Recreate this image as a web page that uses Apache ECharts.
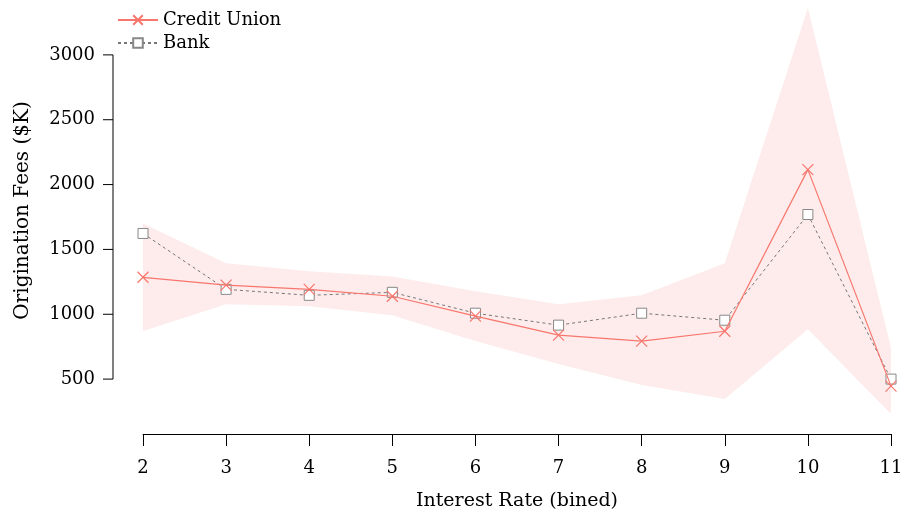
<!DOCTYPE html>
<html lang="en">
<head>
<meta charset="UTF-8">
<title>Origination Fees</title>
<script src="https://cdn.jsdelivr.net/npm/echarts@6/dist/echarts.min.js"></script>
<style>
    body,html{ margin:0; width:906px; height:516px; background:#fff; }
    #chart{ width:906px; height:516px; }
</style>
</head>
<body>
<div id="chart"></div>
<script>
    // data
    let rates = [2, 3, 4, 5, 6, 7, 8, 9, 10, 11];
    let creditUnion = [1285, 1224, 1192, 1139, 985, 839, 793, 869, 2115, 446];
    let bank = [1623, 1192, 1146, 1169, 1008, 916, 1008, 954, 1769, 500];
    let bandLow = [870, 1077, 1062, 992, 793, 616, 454, 346, 885, 231];
    let bandHigh = [1700, 1393, 1331, 1292, 1177, 1077, 1146, 1393, 3361, 740];
    let yTicks = [500, 1000, 1500, 2000, 2500, 3000];

    let font = "'DejaVu Serif', serif";
    let red = '#f8766d';

    let chart = echarts.init(document.getElementById('chart'));
    let option = {
        animation: false,
        textStyle: { fontFamily: font },
        grid: { left: 143, right: 15, top: 3, bottom: 97 },
        legend: {
            left: 112, top: 6, orient: 'vertical', itemGap: 5,
            itemWidth: 40, itemHeight: 12,
            textStyle: { fontFamily: font, fontSize: 18, color: '#000' },
            data: ['Credit Union', 'Bank']
        },
        xAxis: {
            type: 'value', min: 2, max: 11, interval: 1, offset: 16,
            name: 'Interest Rate (bined)', nameLocation: 'middle', nameGap: 58,
            nameTextStyle: { fontSize: 19, color: '#000' },
            axisLine: { lineStyle: { color: '#000' } },
            axisTick: { length: 12, lineStyle: { color: '#000' } },
            axisLabel: { fontSize: 18, color: '#000', margin: 25 },
            splitLine: { show: false }
        },
        yAxis: {
            type: 'value', min: 200, max: 3400, offset: 30,
            name: 'Origination Fees ($K)', nameLocation: 'middle', nameGap: 80,
            nameTextStyle: { fontSize: 20, color: '#000' },
            axisLine: { show: false },
            axisTick: { show: false },
            axisLabel: {
                fontSize: 18, color: '#000', margin: 18,
                formatter: v => yTicks.indexOf(v) >= 0 ? v : ''
            },
            interval: 100,
            splitLine: { show: false }
        },
        series: [
            {
                type: 'custom', silent: true, z: 1,
                data: [0],
                renderItem: function (params, api) {
                    let pts = [];
                    rates.forEach((r, i) => pts.push(api.coord([r, bandHigh[i]])));
                    for (let i = rates.length - 1; i >= 0; i--) pts.push(api.coord([rates[i], bandLow[i]]));
                    return { type: 'polygon', shape: { points: pts }, style: { fill: '#fdeceb' } };
                }
            },
            {
                name: 'Credit Union', type: 'line', z: 3,
                data: rates.map((r, i) => [r, creditUnion[i]]),
                symbol: 'path://M0,0L10,10M10,0L0,10', symbolSize: 11,
                itemStyle: { color: 'none', borderColor: red, borderWidth: 1.2 },
                lineStyle: { color: red, width: 1.2 },
                color: red
            },
            {
                name: 'Bank', type: 'line', z: 2,
                data: rates.map((r, i) => [r, bank[i]]),
                symbol: 'rect', symbolSize: 10,
                itemStyle: { color: '#fff', borderColor: '#888', borderWidth: 1 },
                lineStyle: { color: '#777', width: 1, type: [3, 3] },
                color: '#888'
            }
        ]
    };
    chart.setOption(option);

    // R style y axis line, only between the first and last tick
    let yAxisX = 113;
    let p0 = chart.convertToPixel({ gridIndex: 0 }, [2, yTicks[0]]);
    let p1 = chart.convertToPixel({ gridIndex: 0 }, [2, yTicks[yTicks.length - 1]]);
    let els = [{
        type: 'line', shape: { x1: yAxisX, y1: p0[1], x2: yAxisX, y2: p1[1] },
        style: { stroke: '#000', lineWidth: 1 }
    }];
    yTicks.forEach(t => {
        let p = chart.convertToPixel({ gridIndex: 0 }, [2, t]);
        els.push({
            type: 'line', shape: { x1: yAxisX - 10, y1: p[1], x2: yAxisX, y2: p[1] },
            style: { stroke: '#000', lineWidth: 1 }
        });
    });
    chart.setOption({ graphic: els });
</script>
</body>
</html>
